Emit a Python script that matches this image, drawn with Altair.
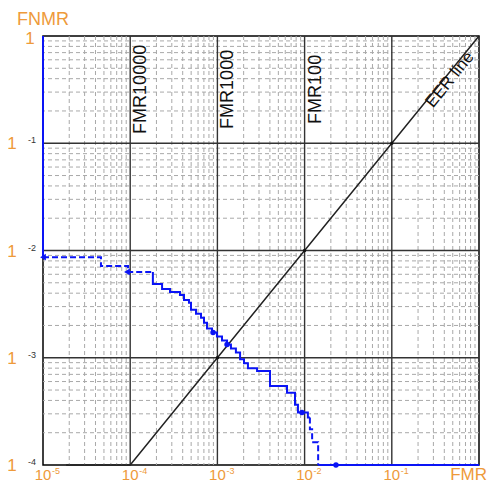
import altair as alt
import pandas as pd

# ---------------- data ----------------
# DET curve pieces: FMR (x) and FNMR (y)
top_fmr = [1e-5, 1e-5]
top_fnmr = [1.0, 8.67e-3]
head_fmr = [1e-5, 4.62e-5, 9.44e-5, 1.82e-4]
head_fnmr = [8.67e-3, 7.17e-3, 6.31e-3, 6.31e-3]
body_fmr = [1.82e-4, 1.82e-4, 2.32e-4, 2.86e-4, 3.72e-4, 4.14e-4, 4.72e-4, 4.98e-4,
            5.68e-4, 6.49e-4, 7.02e-4, 7.60e-4, 8.67e-4, 9.88e-4, 1.13e-3, 1.29e-3,
            1.43e-3, 1.63e-3, 1.82e-3, 2.02e-3, 2.24e-3, 2.85e-3, 4.01e-3, 6.28e-3,
            7.76e-3, 8.39e-3, 1.09e-2, 1.15e-2]
body_fnmr = [6.31e-3, 4.86e-3, 4.37e-3, 4.10e-3, 3.85e-3, 3.46e-3, 3.25e-3, 2.80e-3,
             2.57e-3, 2.36e-3, 2.12e-3, 1.87e-3, 1.72e-3, 1.58e-3, 1.45e-3, 1.33e-3,
             1.22e-3, 1.12e-3, 9.68e-4, 8.90e-4, 8.00e-4, 7.51e-4, 5.46e-4, 4.71e-4,
             3.65e-4, 3.08e-4, 2.77e-4, 2.77e-4]
tail_fmr = [1.15e-2, 1.15e-2, 1.22e-2, 1.43e-2]
tail_fnmr = [2.77e-4, 2.15e-4, 1.63e-4, 1e-4]
floor_fmr = [1.43e-2, 1.0]
floor_fnmr = [1e-4, 1e-4]

arrow_fmr = [1e-5, 9.18e-5]
arrow_fnmr = [8.67e-3, 6.31e-3]
dot_fmr = [8.91e-4, 1.29e-3, 9.33e-3, 2.29e-2]
dot_fnmr = [1.72e-3, 1.33e-3, 3.08e-4, 1e-4]

eer_fmr = [1.84e-5, 1e-4, 1.0]
eer_fnmr = [1e-4, 1e-4, 1.0]
eer_dots = [1e-3, 1e-2, 1e-1]

fmr_lines = [1e-4, 1e-3, 1e-2]
fmr_names = ["FMR10000", "FMR1000", "FMR100"]
fmr_label_y = 0.318

x_ticks = [1e-5, 1e-4, 1e-3, 1e-2, 1e-1]
x_exps = ["-5", "-4", "-3", "-2", "-1"]
y_ticks = [1e-1, 1e-2, 1e-3, 1e-4]
y_exps = ["-1", "-2", "-3", "-4"]

major_x = [1e-4, 1e-3, 1e-2, 1e-1]
major_y = [1e-3, 1e-2, 1e-1]
minor_x = [m * 10.0 ** d for d in range(-5, 0) for m in range(2, 10)]
minor_y = [m * 10.0 ** d for d in range(-4, 0) for m in range(2, 10)]

# ---------------- styling ----------------
FONT = "Liberation Sans"
ORANGE = "#EE9A3A"
BLUE = "#0A14F5"
W, H = 436, 429

xs = alt.Scale(type="log", domain=[1e-5, 1], nice=False)
ys = alt.Scale(type="log", domain=[1e-4, 1], nice=False)


def X(f="fmr"):
    return alt.X(f"{f}:Q", scale=xs, axis=None)


def Y(f="fnmr"):
    return alt.Y(f"{f}:Q", scale=ys, axis=None)


# ---------------- build tables ----------------
rows = []
for seg, style, xv, yv in [("top", "solid", top_fmr, top_fnmr),
                           ("head", "dashed", head_fmr, head_fnmr),
                           ("body", "solid", body_fmr, body_fnmr),
                           ("tail", "dashed", tail_fmr, tail_fnmr),
                           ("floor", "solid", floor_fmr, floor_fnmr)]:
    for k, (a, b) in enumerate(zip(xv, yv)):
        rows.append({"fmr": a, "fnmr": b, "seg": seg, "style": style, "i": k})
det_df = pd.DataFrame(rows)

grid_minor_v = alt.Chart(pd.DataFrame({"fmr": minor_x})).mark_rule(
    color="#A9A9A9", strokeDash=[4, 3], strokeWidth=1).encode(x=X())
grid_minor_h = alt.Chart(pd.DataFrame({"fnmr": minor_y})).mark_rule(
    color="#A9A9A9", strokeDash=[4, 3], strokeWidth=1).encode(y=Y())
grid_major_v = alt.Chart(pd.DataFrame({"fmr": major_x})).mark_rule(
    color="#333333", strokeWidth=1.4).encode(x=X())
grid_major_h = alt.Chart(pd.DataFrame({"fnmr": major_y})).mark_rule(
    color="#333333", strokeWidth=1.4).encode(y=Y())

eer = alt.Chart(pd.DataFrame({"fmr": eer_fmr, "fnmr": eer_fnmr, "i": [0, 1, 2]})).mark_line(
    color="#222222", strokeWidth=1.5).encode(x=X(), y=Y(), order="i:Q")
eer_pts = alt.Chart(pd.DataFrame({"fmr": eer_dots, "fnmr": eer_dots})).mark_point(
    filled=True, color="#111111", size=12, opacity=1).encode(x=X(), y=Y())

det = alt.Chart(det_df).mark_line(color=BLUE, strokeWidth=2, interpolate="step-after").encode(
    x=X(), y=Y(), detail="seg:N", order="i:Q",
    strokeDash=alt.StrokeDash("style:N", scale=alt.Scale(domain=["solid", "dashed"],
                                                         range=[[1, 0], [6, 3]]), legend=None))
arrows = alt.Chart(pd.DataFrame({"fmr": arrow_fmr, "fnmr": arrow_fnmr})).mark_point(
    shape="triangle-left", filled=True, color=BLUE, size=45, opacity=1).encode(x=X(), y=Y())
dots = alt.Chart(pd.DataFrame({"fmr": dot_fmr, "fnmr": dot_fnmr})).mark_point(
    shape="circle", filled=True, color=BLUE, size=30, opacity=1).encode(x=X(), y=Y())

# rotated labels: dx runs along the text, dy across it
fmr_text = alt.Chart(pd.DataFrame({"fmr": fmr_lines, "fnmr": [fmr_label_y] * 3, "t": fmr_names})).mark_text(
    angle=270, align="center", baseline="middle", dy=11, font=FONT, fontSize=18, color="#111111").encode(
    x=X(), y=Y(), text="t:N")
eer_text = alt.Chart(pd.DataFrame({"fmr": [0.44], "fnmr": [0.44], "t": ["EER line"]})).mark_text(
    angle=308.8, align="center", baseline="middle", dx=-3, dy=5, font=FONT, fontSize=17, color="#111111").encode(
    x=X(), y=Y(), text="t:N")

x_lab = alt.Chart(pd.DataFrame({"fmr": x_ticks, "fnmr": [1e-4] * 5, "t": ["10"] * 5})).mark_text(
    align="center", baseline="middle", dy=10, font=FONT, fontSize=15, color=ORANGE).encode(
    x=X(), y=Y(), text="t:N")
x_sup = alt.Chart(pd.DataFrame({"fmr": x_ticks, "fnmr": [1e-4] * 5, "t": x_exps})).mark_text(
    align="left", baseline="middle", dx=9, dy=6, font=FONT, fontSize=9, color=ORANGE).encode(
    x=X(), y=Y(), text="t:N")
fmr_title = alt.Chart(pd.DataFrame({"fmr": [1.0], "fnmr": [1e-4], "t": ["FMR"]})).mark_text(
    align="right", baseline="middle", dx=8, dy=10, font=FONT, fontSize=17, color=ORANGE).encode(
    x=X(), y=Y(), text="t:N")

y_lab = alt.Chart(pd.DataFrame({"fmr": [1e-5] * 4, "fnmr": y_ticks, "t": ["1"] * 4})).mark_text(
    align="center", baseline="middle", dx=-31, dy=1, font=FONT, fontSize=17, color=ORANGE).encode(
    x=X(), y=Y(), text="t:N")
y_sup = alt.Chart(pd.DataFrame({"fmr": [1e-5] * 4, "fnmr": y_ticks, "t": y_exps})).mark_text(
    align="left", baseline="middle", dx=-15, dy=-3, font=FONT, fontSize=9, color="#333333").encode(
    x=X(), y=Y(), text="t:N")
y_one = alt.Chart(pd.DataFrame({"fmr": [1e-5], "fnmr": [1.0], "t": ["1"]})).mark_text(
    align="center", baseline="middle", dx=-13, dy=3, font=FONT, fontSize=17, color=ORANGE).encode(
    x=X(), y=Y(), text="t:N")
fnmr_title = alt.Chart(pd.DataFrame({"fmr": [1e-5], "fnmr": [1.0], "t": ["FNMR"]})).mark_text(
    align="center", baseline="middle", dx=0, dy=-16, font=FONT, fontSize=18, color=ORANGE).encode(
    x=X(), y=Y(), text="t:N")

chart = alt.layer(
    grid_minor_v, grid_minor_h, grid_major_v, grid_major_h,
    eer, eer_pts, det, arrows, dots,
    fmr_text, eer_text, x_lab, x_sup, fmr_title, y_lab, y_sup, y_one, fnmr_title,
).properties(
    width=W, height=H,
    padding={"left": 35, "top": 28, "right": 9, "bottom": 18},
    autosize=alt.AutoSizeParams(type="none"),
).configure_view(stroke="black", strokeWidth=1.5)

chart.save("out.html", embed_options={"renderer": "svg", "actions": False})
